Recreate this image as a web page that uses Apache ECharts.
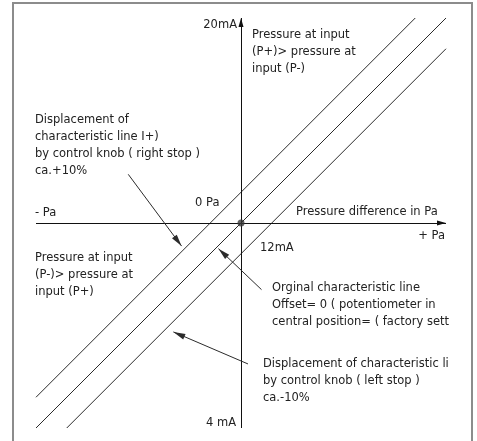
<!DOCTYPE html>
<html>
<head>
<meta charset="utf-8">
<script src="https://cdn.jsdelivr.net/npm/echarts@6/dist/echarts.min.js"></script>
<style>
    html, body { margin: 0; padding: 0; background: #fff; }
    #chart { width: 477px; height: 441px; }
</style>
</head>
<body>
<div id="chart"></div>
<script>
(function (win) {
    // 坐标范围: x 为压差 (相对值), y 为输出电流 mA
    var xRange = [-100, 100],
        yRange = [4, 20],
        zeroPoint = [[0, 12]];

    // 三条特性线
    var upperLine = [[-100, 5.2], [85, 20]],
        middleLine = [[-100, 4], [100, 20]],
        lowerLine = [[-85, 4], [100, 18.8]];

    // 指示箭头 (起点 -> 箭头尖)
    var arrowRight = [[-55, 13.9], [-29, 11.1]],
        arrowOrig = [[10, 9.4], [-11, 11.0]],
        arrowLeft = [[3.4, 6.5], [-33, 7.75]];

    var font = 'DejaVu Sans',
        ink = '#2b2b2b';

    var chart = echarts.init(document.getElementById('chart'), null, { renderer: 'canvas' });

    function lineSeries(data) {
        return {
            type: 'line',
            data: data,
            symbol: 'none',
            silent: true,
            lineStyle: { color: ink, width: 1 },
            z: 3
        };
    }

    function txt(text, x, y, opt) {
        opt = opt || {};
        return {
            type: 'text',
            x: x,
            y: y,
            silent: true,
            style: {
                text: text,
                fill: '#222',
                font: '11.5px "' + font + '"',
                align: opt.align || 'left',
                verticalAlign: opt.va || 'middle',
                lineHeight: 17
            }
        };
    }

    function arrowPair(pair) {
        return [{ coord: pair[0] }, { coord: pair[1] }];
    }

    var arrowHead = { symbol: ['none', 'triangle'], symbolOffset: [0, [0, '50%']] };

    chart.setOption({
        animation: false,
        backgroundColor: '#fff',
        grid: { left: 36, top: 18, width: 410, height: 410 },
        xAxis: { type: 'value', min: xRange[0], max: xRange[1], show: false },
        yAxis: { type: 'value', min: yRange[0], max: yRange[1], show: false },
        series: [
            lineSeries(upperLine),
            lineSeries(middleLine),
            lineSeries(lowerLine),
            {
                type: 'scatter',
                data: zeroPoint,
                symbolSize: 7,
                silent: true,
                itemStyle: { color: '#3a3a3a' },
                z: 5,
                // 坐标轴
                markLine: {
                    silent: true,
                    symbol: arrowHead.symbol,
                    symbolSize: [5, 9],
                    symbolOffset: arrowHead.symbolOffset,
                    label: { show: false },
                    lineStyle: { color: '#111', width: 1, type: 'solid' },
                    data: [
                        { xAxis: zeroPoint[0][0] },
                        { yAxis: zeroPoint[0][1] }
                    ]
                }
            },
            {
                type: 'line',
                data: [],
                silent: true,
                // 说明箭头
                markLine: {
                    silent: true,
                    symbol: arrowHead.symbol,
                    symbolSize: [6, 12],
                    symbolOffset: arrowHead.symbolOffset,
                    label: { show: false },
                    lineStyle: { color: ink, width: 1, type: 'solid' },
                    data: [arrowPair(arrowRight), arrowPair(arrowOrig), arrowPair(arrowLeft)]
                }
            }
        ],
        graphic: [
            {
                type: 'rect',
                silent: true,
                shape: { x: 13, y: 3, width: 459, height: 460 },
                style: { fill: 'none', stroke: '#8c8c8c', lineWidth: 2 }
            },
            txt('20mA', 237, 25, { align: 'right' }),
            txt('Pressure at input\n(P+)> pressure at\ninput (P-)', 252, 27, { va: 'top' }),
            txt('Displacement of\ncharacteristic line I+)\nby control knob ( right stop )\nca.+10%', 35, 112, { va: 'top' }),
            txt('0 Pa', 195, 203),
            txt('- Pa', 35, 213),
            txt('Pressure difference in Pa', 296, 212),
            txt('+ Pa', 445, 236, { align: 'right' }),
            txt('12mA', 260, 248),
            txt('Pressure at input\n(P-)> pressure at\ninput (P+)', 35, 250, { va: 'top' }),
            txt('Orginal characteristic line\nOffset= 0 ( potentiometer in\ncentral position= ( factory sett', 272, 280, { va: 'top' }),
            txt('Displacement of characteristic li\nby control knob ( left stop )\nca.-10%', 263, 356, { va: 'top' }),
            txt('4 mA', 236, 423, { align: 'right' })
        ]
    });
})(this);
</script>
</body>
</html>
